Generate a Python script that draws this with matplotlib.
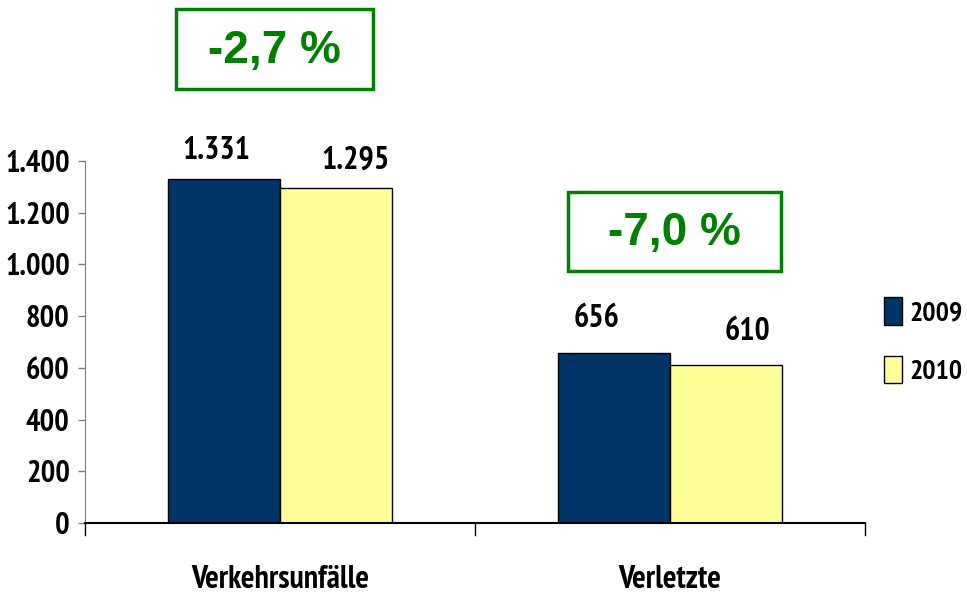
import matplotlib
matplotlib.use("Agg")
import matplotlib.pyplot as plt
from matplotlib import font_manager
from matplotlib.font_manager import FontProperties
import numpy as np
import glob, os

categories = ["Verkehrsunfälle", "Verletzte"]
years = ["2009", "2010"]
values_2009 = [1331, 656]
values_2010 = [1295, 610]
value_labels_2009 = ["1.331", "656"]
value_labels_2010 = ["1.295", "610"]
changes = ["-2,7 %", "-7,0 %"]
yticks = [0, 200, 400, 600, 800, 1000, 1200, 1400]
ytick_labels = ["0", "200", "400", "600", "800", "1.000", "1.200", "1.400"]

# find a condensed bold font if available
cand = None
files = [f.fname for f in font_manager.fontManager.ttflist]
extra = glob.glob("/usr/share/fonts/**/*.tt[fc]", recursive=True) + glob.glob("/usr/share/fonts/**/*.otf", recursive=True)
allfiles = list(dict.fromkeys(files + extra))
for key in ["Narrow", "Condensed", "Cond"]:
    for fn in allfiles:
        b = os.path.basename(fn)
        if key in b and "Bold" in b and "Oblique" not in b and "Italic" not in b and "Semi" not in b and "Extra" not in b:
            cand = fn
            break
    if cand:
        break

if cand:
    def fp(size):
        return FontProperties(fname=cand, size=size)
    main_size = 23
    tick_size = 22
    leg_size = 20
else:
    def fp(size):
        return FontProperties(family="Liberation Sans", weight="bold", size=size)
    main_size = 18
    tick_size = 17
    leg_size = 16

c09 = "#003366"
c10 = "#FFFF99"
green = "#008000"

fig = plt.figure(figsize=(9.67, 5.99), dpi=100)
ax = fig.add_axes([85/967, 1-523/599, 780/967, 362/599])

x = np.arange(len(categories))
w = 0.2872
b1 = ax.bar(x - w/2, values_2009, w, color=c09, edgecolor="black", linewidth=1, label=years[0])
b2 = ax.bar(x + w/2, values_2010, w, color=c10, edgecolor="black", linewidth=1, label=years[1])

ax.set_xlim(-0.5, 1.5)
ax.set_ylim(0, 1400)
ax.set_yticks(yticks)
ax.set_yticklabels(ytick_labels, fontproperties=fp(tick_size))
ax.set_xticks(x)
ax.set_xticklabels(categories, fontproperties=fp(main_size))
ax.tick_params(axis="x", length=0, pad=30)
ax.tick_params(axis="y", length=5, width=1, color="#808080", pad=6)
for s in ["top", "right"]:
    ax.spines[s].set_visible(False)
ax.spines["left"].set_color("#808080")
ax.spines["bottom"].set_color("black")
ax.spines["bottom"].set_linewidth(1.5)
ax.spines["left"].set_bounds(0, 1400)

# category separator ticks below axis
for xs in [-0.5, 0.5, 1.5]:
    ax.plot([xs, xs], [0, -45], color="black", lw=1, clip_on=False)

# value labels
offs09 = [(-0.02, 50), (-0.045, 75)]
offs10 = [(0.05, 50), (0.055, 70)]
for i in range(len(categories)):
    ax.text(x[i] - w/2 + offs09[i][0], values_2009[i] + offs09[i][1], value_labels_2009[i],
            ha="center", va="bottom", fontproperties=fp(main_size))
    ax.text(x[i] + w/2 + offs10[i][0], values_2010[i] + offs10[i][1], value_labels_2010[i],
            ha="center", va="bottom", fontproperties=fp(main_size))

# change boxes
box_pos = [(274/967, 1-49/599), (674/967, 1-231/599)]
box_size = [(197/967, 80/599), (213/967, 79/599)]
for (cx, cy), (bw, bh), t in zip(box_pos, box_size, changes):
    rect = plt.Rectangle((cx - bw/2, cy - bh/2), bw, bh, transform=fig.transFigure,
                         fill=False, edgecolor=green, linewidth=2.5)
    fig.add_artist(rect)
    fig.text(cx, cy - 0.004, t, ha="center", va="center", color=green, fontweight="bold",
             fontfamily="Liberation Sans", fontsize=33)

leg = fig.legend(handles=[b1, b2], labels=years, loc="upper left",
                 bbox_to_anchor=(884/967, 1-297/599), frameon=False,
                 prop=fp(leg_size), borderaxespad=0, borderpad=0,
                 handlelength=0.65, handleheight=1.15, handletextpad=0.25, labelspacing=1.1)

fig.savefig("out.png", dpi=100)
